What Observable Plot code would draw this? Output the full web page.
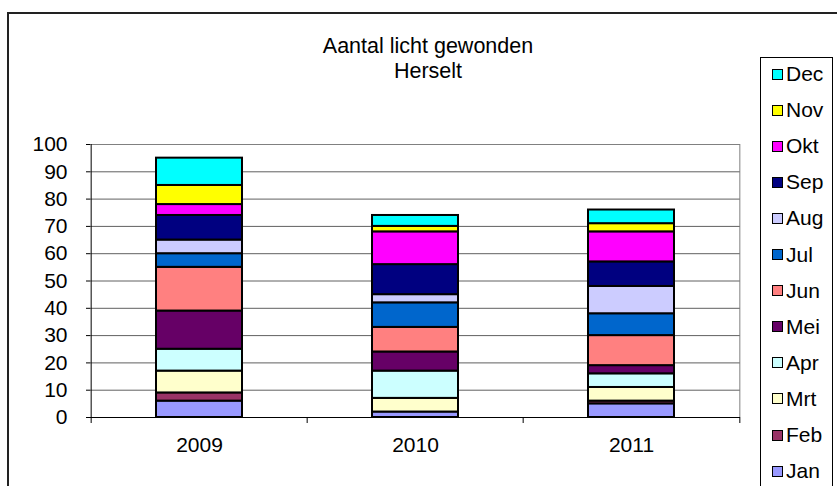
<!DOCTYPE html>
<html><head><meta charset="utf-8">
<script src="https://cdn.jsdelivr.net/npm/d3@7"></script>
<script src="https://cdn.jsdelivr.net/npm/@observablehq/plot@0.6"></script>
<style>
body{margin:0;background:#fff;font-family:"Liberation Sans",Arial,sans-serif;}
#wrap{position:relative;width:837px;height:486px;overflow:hidden;background:#fff;}
#outer{position:absolute;left:7px;top:12px;width:900px;height:600px;border:2px solid #222;box-sizing:border-box;pointer-events:none;}
#chart{position:absolute;left:0;top:0;}
#title{position:absolute;left:228px;width:400px;top:34px;text-align:center;font-size:21.5px;line-height:25px;color:#000;}
#legend{position:absolute;left:760px;top:57px;width:73px;height:600px;border:1px solid #000;box-sizing:border-box;background:#fff;}
.item{position:absolute;left:11px;height:24px;display:flex;align-items:center;font-size:21px;color:#000;}
.sw{width:9px;height:9px;border:1.5px solid #000;margin-right:3px;}
</style></head>
<body>
<div id="wrap">
  <div id="chart"></div>
  <div id="outer"></div>
  <div id="title">Aantal licht gewonden<br>Herselt</div>
  <div id="legend"></div>
</div>
<script>
const years = ["2009", "2010", "2011"];
const months = ["Jan","Feb","Mrt","Apr","Mei","Jun","Jul","Aug","Sep","Okt","Nov","Dec"];
const colors = ["#9999FF","#993366","#FFFFCC","#CCFFFF","#660066","#FF8080","#0066CC","#CCCCFF","#000080","#FF00FF","#FFFF00","#00FFFF"];
const v2009 = [6, 3, 8, 8, 14, 16, 5, 5, 9, 4, 7, 10];
const v2010 = [2, 0, 5, 10, 7, 9, 9, 3, 11, 12, 2, 4];
const v2011 = [5, 1, 5, 5, 3, 11, 8, 10, 9, 11, 3, 5];
const yTicks = [0,10,20,30,40,50,60,70,80,90,100];

const series = [v2009, v2010, v2011];
const data = [];
years.forEach((yr, i) => months.forEach((m, j) => data.push({year: yr, month: m, value: series[i][j]})));

const W = 837, H = 486, ML = 90, MR = 97, MT = 144, MB = 69;
const step = (W - ML - MR) / years.length;

const plot = Plot.plot({
  width: W, height: H,
  marginLeft: ML, marginRight: MR, marginTop: MT, marginBottom: MB,
  style: {fontFamily: "Liberation Sans, Arial, sans-serif", fontSize: "21px", color: "#000", background: "transparent"},
  x: {domain: years, paddingInner: 0.6, paddingOuter: 0.3, label: null},
  y: {domain: [0, 100], label: null},
  color: {domain: months, range: colors},
  marks: [
    Plot.gridY(yTicks.filter(t => t > 0), {stroke: "#606060", strokeOpacity: 1}),
    Plot.ruleX([years[years.length - 1]], {x: d => d, dx: step / 2, stroke: "#808080"}),
    Plot.ruleY([100], {stroke: "#808080"}),
    Plot.barY(data, {x: "year", y: "value", fill: "month", stroke: "#000", strokeWidth: 2, order: null}),
    Plot.axisY(yTicks, {tickSize: 4, tickPadding: 19, stroke: "#000", fill: "#000", fontSize: 21}),
    Plot.axisX({tickSize: 0, tickPadding: 20, fill: "#000", fontSize: 21}),
    Plot.ruleX([0], {x: () => years[0], dx: -step / 2, y1: 0, y2: 100, stroke: "#000"}),
    Plot.ruleY([0], {stroke: "#000"}),
    Plot.ruleX(years, {x: d => d, dx: -step / 2, y1: 0, y2: 0, insetBottom: -6, stroke: "#000"}),
    Plot.ruleX([years[years.length - 1]], {x: d => d, dx: step / 2, y1: 0, y2: 0, insetBottom: -6, stroke: "#000"})
  ]
});
document.getElementById("chart").appendChild(plot);

const legend = document.getElementById("legend");
const order = months.slice().reverse();
order.forEach((m, i) => {
  const it = document.createElement("div");
  it.className = "item";
  it.style.top = (4 + i * 36.1) + "px";
  const sw = document.createElement("div");
  sw.className = "sw";
  sw.style.background = colors[months.indexOf(m)];
  const tx = document.createElement("span");
  tx.textContent = m;
  it.appendChild(sw); it.appendChild(tx);
  legend.appendChild(it);
});
</script>
</body></html>
